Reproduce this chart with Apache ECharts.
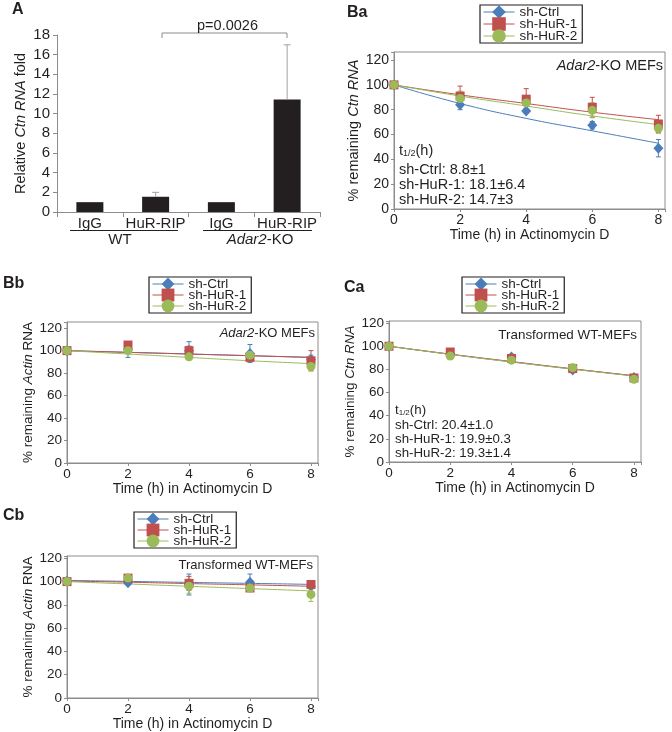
<!DOCTYPE html>
<html>
<head>
<meta charset="utf-8">
<script src="https://cdn.jsdelivr.net/npm/echarts@6/dist/echarts.min.js"></script>
<style>
  html, body { margin: 0; padding: 0; background: #fff; }
  #chart { width: 672px; height: 732px; }
</style>
</head>
<body>
<div id="chart"></div>
<script>
const FONT = '"Liberation Sans", Arial, sans-serif';
const TEXT = '#231f20';
const AXIS = '#8c8c8c';
const BLUE = '#4a7ebb';
const RED = '#c0504d';
const GREEN = '#9bbb59';

// Panel A: RIP fold enrichment
const ripCategories = ['IgG', 'HuR-RIP', 'IgG', 'HuR-RIP'];
const ripFold = [1, 1.55, 1, 11.45];
const ripErr = [0, 0.45, 0, 5.55];

// time course (h)
const hours = [0, 2, 4, 6, 8];
const seriesNames = ['sh-Ctrl', 'sh-HuR-1', 'sh-HuR-2'];

// Ba: Ctn RNA, Adar2-KO MEFs
const baCtrl = [100, 84, 79, 67.5, 49];
const baCtrlErr = [0, 4, 2, 3, 7];
const baHuR1 = [100, 91, 88.5, 82, 68.5];
const baHuR1Err = [0, 8, 8.5, 8, 7];
const baHuR2 = [100, 89, 85.5, 79.5, 65];
const baHuR2Err = [0, 6, 5, 6, 4];
const baCtrlFit = [100, 85, 73, 63, 53];
const baHuR1Fit = [100, 92, 85, 78, 72];
const baHuR2Fit = [100, 91, 83, 75, 68];

// Bb: Actin RNA, Adar2-KO MEFs
const bbCtrl = [100, 101, 100, 97.5, 92];
const bbCtrlErr = [0, 7, 8, 8, 4];
const bbHuR1 = [100, 105, 100, 94, 91];
const bbHuR1Err = [0, 3, 4, 3, 9];
const bbHuR2 = [100, 100, 94.5, 96, 86];
const bbHuR2Err = [0, 2, 2, 3, 4];
const bbCtrlFit = [100, 98.5, 97, 95.5, 94];
const bbHuR1Fit = [100, 98.5, 97, 95.5, 94];
const bbHuR2Fit = [100, 97, 94, 91, 88.5];

// Ca: Ctn RNA, transformed WT-MEFs
const caCtrl = [100, 93.5, 90.7, 79.5, 73];
const caCtrlErr = [0, 1.5, 1.5, 2, 1];
const caHuR1 = [100, 95, 89.5, 80.7, 72.6];
const caHuR1Err = [0, 1, 1.5, 1, 1];
const caHuR2 = [100, 91.5, 88, 81.5, 71.5];
const caHuR2Err = [0, 1, 1.5, 3, 1];
const caCtrlFit = [100, 93, 86.5, 80.3, 74.5];
const caHuR1Fit = [100, 93.2, 86.8, 80.5, 74.5];
const caHuR2Fit = [100, 93, 86.4, 80.2, 74.2];

// Cb: Actin RNA, transformed WT-MEFs
const cbCtrl = [100.5, 99, 97.5, 99.5, 96];
const cbCtrlErr = [0, 2, 9, 7, 2];
const cbHuR1 = [100, 103, 98.5, 94.5, 97.5];
const cbHuR1Err = [0, 2, 6, 3, 3];
const cbHuR2 = [100, 103, 96, 94.5, 89];
const cbHuR2Err = [0, 1, 6, 2, 6];
const cbCtrlFit = [101, 100.2, 99.3, 98.5, 97.6];
const cbHuR1Fit = [100.5, 99.5, 98.3, 97.2, 96];
const cbHuR2Fit = [100, 98, 96, 94, 92];

const richFont = (size) => ({
  n: { fontSize: size, fontFamily: FONT, color: TEXT },
  i: { fontSize: size, fontFamily: FONT, color: TEXT, fontStyle: 'italic' },
  s: { fontSize: Math.round(size * 0.62), fontFamily: FONT, color: TEXT, verticalAlign: 'bottom' },
});

const errorBars = (idx, name, color, xs, vals, errs, cap, upperOnly) => ({
  type: 'custom',
  name,
  xAxisIndex: idx,
  yAxisIndex: idx,
  z: 3,
  silent: true,
  data: vals.map((v, i) => [xs[i], v, errs[i]]),
  renderItem: (params, api) => {
    const x = api.value(0);
    const y = api.value(1);
    const e = api.value(2);
    if (!e) return null;
    const top = api.coord([x, y + e]);
    const bot = api.coord([x, upperOnly ? y : y - e]);
    const style = { stroke: color, lineWidth: 1 };
    const children = [
      { type: 'line', shape: { x1: top[0], y1: top[1], x2: bot[0], y2: bot[1] }, style },
      { type: 'line', shape: { x1: top[0] - cap, y1: top[1], x2: top[0] + cap, y2: top[1] }, style },
    ];
    if (!upperOnly) {
      children.push({ type: 'line', shape: { x1: bot[0] - cap, y1: bot[1], x2: bot[0] + cap, y2: bot[1] }, style });
    }
    return { type: 'group', children };
  },
});

const panelSeries = (idx, sets) => {
  const out = [];
  sets.forEach(s => {
    out.push({
      type: 'line',
      name: 'fit-' + idx + '-' + s.name,
      xAxisIndex: idx,
      yAxisIndex: idx,
      data: hours.map((h, i) => [h, s.fit[i]]),
      smooth: true,
      symbol: 'none',
      silent: true,
      lineStyle: { width: 1, color: s.color },
      z: 2,
    });
  });
  sets.forEach(s => {
    out.push(errorBars(idx, 'err-' + idx + '-' + s.name, s.color, hours, s.vals, s.errs, 2.5, false));
  });
  sets.forEach(s => {
    out.push({
      type: 'line',
      name: s.name,
      xAxisIndex: idx,
      yAxisIndex: idx,
      data: hours.map((h, i) => [h, s.vals[i]]),
      symbol: s.symbol,
      symbolSize: s.size,
      showSymbol: true,
      silent: true,
      itemStyle: { color: s.color },
      lineStyle: { width: 1, color: s.color, opacity: 0 },
      z: 4,
    });
  });
  return out;
};

const makeSets = (ctrl, ctrlErr, ctrlFit, h1, h1Err, h1Fit, h2, h2Err, h2Fit) => [
  { name: 'sh-Ctrl', color: BLUE, symbol: 'diamond', size: [10, 11], vals: ctrl, errs: ctrlErr, fit: ctrlFit },
  { name: 'sh-HuR-1', color: RED, symbol: 'rect', size: 9, vals: h1, errs: h1Err, fit: h1Fit },
  { name: 'sh-HuR-2', color: GREEN, symbol: 'circle', size: 9, vals: h2, errs: h2Err, fit: h2Fit },
];

const timeAxis = (idx, max, fs) => ({
  type: 'value',
  gridIndex: idx,
  min: 0,
  max,
  interval: 2,
  axisLine: { show: true, lineStyle: { color: AXIS } },
  axisTick: { show: true, length: 3, lineStyle: { color: AXIS } },
  axisLabel: { margin: 4, fontSize: fs, color: TEXT, fontFamily: FONT, formatter: v => (v % 2 === 0 ? String(v) : '') },
  splitLine: { show: false },
  name: 'Time (h) in Actinomycin D',
  nameLocation: 'middle',
  nameGap: 19,
  nameTextStyle: { fontSize: 14, color: TEXT, fontFamily: FONT },
});

const pctAxis = (idx, max, name, fs, nameSize, gap) => ({
  type: 'value',
  gridIndex: idx,
  min: 0,
  max,
  interval: 20,
  axisLine: { show: true, lineStyle: { color: AXIS } },
  axisTick: { show: true, length: 3, lineStyle: { color: AXIS } },
  axisLabel: { margin: 5, fontSize: fs, color: TEXT, fontFamily: FONT, formatter: v => (v % 20 === 0 ? String(v) : '') },
  splitLine: { show: false },
  name,
  nameLocation: 'middle',
  nameGap: gap,
  nameTextStyle: { fontSize: nameSize, color: TEXT, fontFamily: FONT, rich: richFont(nameSize) },
});

const legendBox = (left, top, itemH, gap) => ({
  left,
  top,
  orient: 'vertical',
  data: seriesNames,
  selectedMode: false,
  itemWidth: 31,
  itemHeight: itemH,
  itemGap: gap,
  padding: [0, 5, 0, 3],
  borderColor: TEXT,
  borderWidth: 1.2,
  backgroundColor: '#fff',
  lineStyle: { width: 1, opacity: 1 },
  textStyle: { fontSize: 13.5, color: TEXT, fontFamily: FONT },
});

const label = (x, y, text, size, extra) => ({
  type: 'text',
  x,
  y,
  silent: true,
  z: 10,
  style: Object.assign({
    text,
    rich: richFont(size),
    fontSize: size,
    fontFamily: FONT,
    fill: TEXT,
    align: 'left',
    verticalAlign: 'middle',
  }, extra || {}),
});

const panelTag = (x, y, text) => label(x, y, text, 16, { fontWeight: 'bold' });

const seg = (x1, y1, x2, y2, color) => ({
  type: 'line',
  silent: true,
  shape: { x1, y1, x2, y2 },
  style: { stroke: color, lineWidth: 1 },
});

const chart = echarts.init(document.getElementById('chart'));

chart.setOption({
  animation: false,
  backgroundColor: '#fff',
  grid: [
    { left: 57, top: 35, width: 263, height: 177 },
    { left: 394, top: 52, width: 271, height: 157, show: true, borderColor: AXIS, borderWidth: 1 },
    { left: 67, top: 322, width: 251, height: 141, show: true, borderColor: AXIS, borderWidth: 1 },
    { left: 389, top: 321, width: 252, height: 141, show: true, borderColor: AXIS, borderWidth: 1 },
    { left: 67, top: 556, width: 251, height: 142, show: true, borderColor: AXIS, borderWidth: 1 },
  ],
  xAxis: [
    {
      type: 'category',
      gridIndex: 0,
      data: ripCategories,
      axisLine: { lineStyle: { color: AXIS } },
      axisTick: { show: true, length: 5, lineStyle: { color: AXIS } },
      axisLabel: { interval: 0, margin: 4, fontSize: 15, color: TEXT, fontFamily: FONT },
    },
    timeAxis(1, 8.2, 14),
    timeAxis(2, 8.23, 13.5),
    timeAxis(3, 8.23, 13.5),
    timeAxis(4, 8.23, 13.5),
  ],
  yAxis: [
    {
      type: 'value',
      gridIndex: 0,
      min: 0,
      max: 18,
      interval: 2,
      axisLine: { show: true, lineStyle: { color: AXIS } },
      axisTick: { show: true, length: 4, lineStyle: { color: AXIS } },
      axisLabel: { margin: 7, fontSize: 15, color: TEXT, fontFamily: FONT },
      splitLine: { show: false },
      name: '{n|Relative }{i|Ctn RNA}{n| fold}',
      nameLocation: 'middle',
      nameGap: 29,
      nameTextStyle: { fontSize: 14.5, color: TEXT, fontFamily: FONT, rich: richFont(14.5) },
    },
    pctAxis(1, 126.5, '{n|% remaining }{i|Ctn RNA}', 14, 14.5, 28),
    pctAxis(2, 125.5, '{n|% remaining }{i|Actin}{n| RNA}', 13.5, 13.5, 29),
    pctAxis(3, 121.8, '{n|% remaining }{i|Ctn RNA}', 13.5, 13.5, 27),
    pctAxis(4, 122, '{n|% remaining }{i|Actin}{n| RNA}', 13.5, 13.5, 30),
  ],
  legend: [
    legendBox(480, 5, 17, -2),
    legendBox(149, 277, 16, -3),
    legendBox(462, 277, 16, -3),
    legendBox(134, 512, 16, -3),
  ],
  series: [
    {
      type: 'bar',
      name: 'RIP',
      xAxisIndex: 0,
      yAxisIndex: 0,
      data: ripFold,
      barWidth: 27,
      silent: true,
      itemStyle: { color: TEXT },
      z: 2,
    },
    errorBars(0, 'RIP-err', '#a0a0a0', ripCategories.map((c, i) => i), ripFold, ripErr, 3.5, true),
    ...panelSeries(1, makeSets(baCtrl, baCtrlErr, baCtrlFit, baHuR1, baHuR1Err, baHuR1Fit, baHuR2, baHuR2Err, baHuR2Fit)),
    ...panelSeries(2, makeSets(bbCtrl, bbCtrlErr, bbCtrlFit, bbHuR1, bbHuR1Err, bbHuR1Fit, bbHuR2, bbHuR2Err, bbHuR2Fit)),
    ...panelSeries(3, makeSets(caCtrl, caCtrlErr, caCtrlFit, caHuR1, caHuR1Err, caHuR1Fit, caHuR2, caHuR2Err, caHuR2Fit)),
    ...panelSeries(4, makeSets(cbCtrl, cbCtrlErr, cbCtrlFit, cbHuR1, cbHuR1Err, cbHuR1Fit, cbHuR2, cbHuR2Err, cbHuR2Fit)),
  ],
  graphic: [
    panelTag(12, 10, 'A'),
    panelTag(347, 13, 'Ba'),
    panelTag(3, 284, 'Bb'),
    panelTag(344, 288, 'Ca'),
    panelTag(3, 516, 'Cb'),

    // panel A annotations
    { type: 'polyline', silent: true, shape: { points: [[162, 38], [162, 33], [287, 33], [287, 38]] }, style: { stroke: AXIS, lineWidth: 1, fill: null } },
    label(227.5, 26, 'p=0.0026', 14.5, { align: 'center' }),
    seg(70, 230.5, 178, 230.5, TEXT),
    seg(203, 230.5, 312, 230.5, TEXT),
    label(120, 240, 'WT', 15, { align: 'center' }),
    label(260, 240, '{i|Adar2}{n|-KO}', 15, { align: 'center', rich: richFont(15) }),

    // Ba
    label(663, 66, '{i|Adar2}{n|-KO MEFs}', 14.5, { align: 'right', rich: richFont(14.5) }),
    label(399, 151, '{n|t}{s|1/2}{n|(h)}', 14.5, { rich: richFont(14.5) }),
    label(399, 170, 'sh-Ctrl: 8.8±1', 14.5),
    label(399, 185, 'sh-HuR-1: 18.1±6.4', 14.5),
    label(399, 200, 'sh-HuR-2: 14.7±3', 14.5),

    // Bb
    label(315, 333, '{i|Adar2}{n|-KO MEFs}', 13, { align: 'right', rich: richFont(13) }),

    // Ca
    label(637, 335, 'Transformed WT-MEFs', 13.4, { align: 'right' }),
    label(395, 410, '{n|t}{s|1/2}{n|(h)}', 13.3, { rich: richFont(13.3) }),
    label(395, 425, 'sh-Ctrl: 20.4±1.0', 13.3),
    label(395, 439, 'sh-HuR-1: 19.9±0.3', 13.3),
    label(395, 453, 'sh-HuR-2: 19.3±1.4', 13.3),

    // Cb
    label(313, 565, 'Transformed WT-MEFs', 13, { align: 'right' }),
  ],
});

window.addEventListener('resize', () => chart.resize());
</script>
</body>
</html>
